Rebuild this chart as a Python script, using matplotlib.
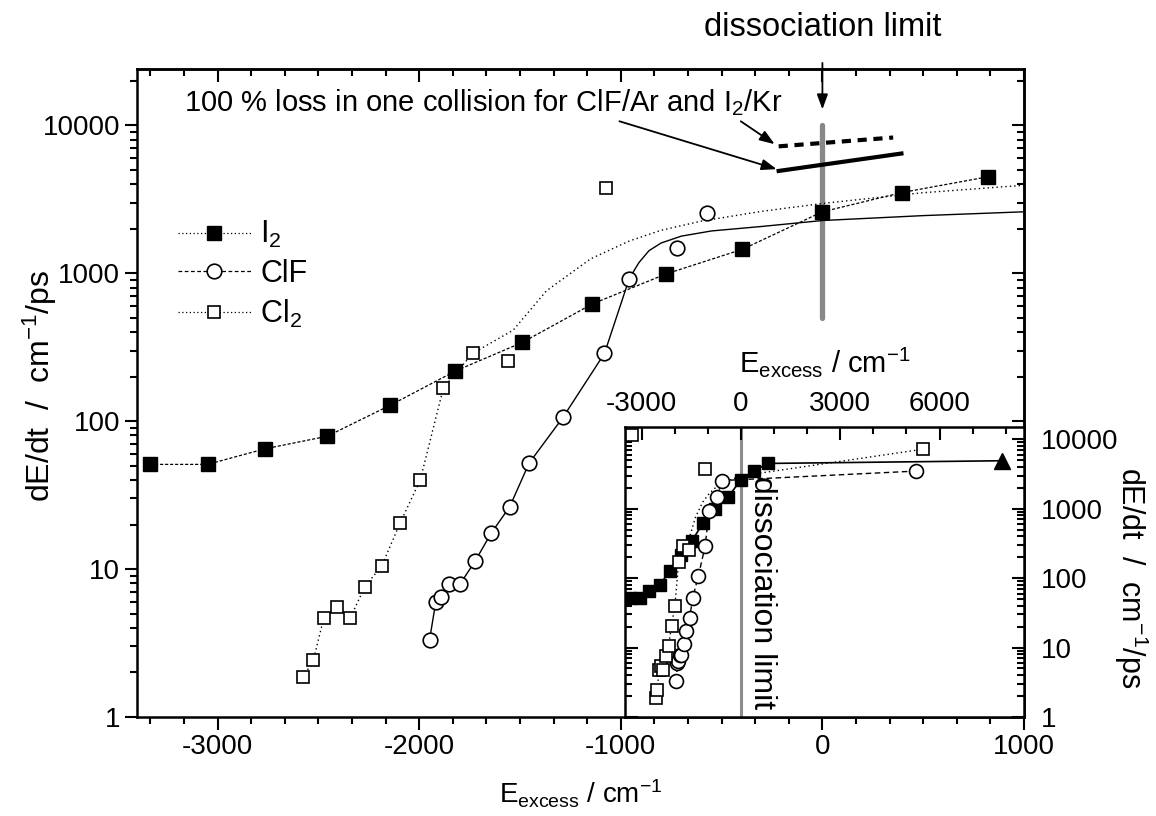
import matplotlib
matplotlib.use('Agg')
import matplotlib.pyplot as plt
from matplotlib.lines import Line2D
from matplotlib.ticker import MultipleLocator, LogLocator, FuncFormatter, NullFormatter

plt.rcParams['font.family'] = ['Liberation Sans', 'DejaVu Sans']
plt.rcParams['mathtext.fontset'] = 'custom'
plt.rcParams['mathtext.rm'] = 'Liberation Sans'
plt.rcParams['mathtext.it'] = 'Liberation Sans:italic'
plt.rcParams['mathtext.bf'] = 'Liberation Sans:bold'
plt.rcParams['axes.unicode_minus'] = False

# ---- data (E_excess in cm^-1, dE/dt in cm^-1/ps) ----
i2_x = [-3335, -3050, -2765, -2457, -2144, -1821, -1489, -1141, -774, -397, 0, 395, 820]
i2_y = [51, 51, 65, 79, 128, 218, 340, 620, 990, 1450, 2600, 3510, 4480]

clf_x = [-1949, -1918, -1893, -1850, -1798, -1723, -1644, -1551, -1455, -1287, -1081, -958, -721, -573]
clf_y = [3.3, 6.0, 6.5, 7.9, 7.9, 11.3, 17.4, 26.4, 52, 106, 287, 920, 1475, 2540]

cl2_x = [-2576, -2525, -2473, -2406, -2341, -2270, -2186, -2094, -1995, -1880, -1735, -1562, -1075]
cl2_y = [1.85, 2.43, 4.7, 5.5, 4.7, 7.6, 10.5, 20.6, 40, 168, 287, 255, 3750]

# smooth guide curves as drawn in the figure
clf_fit_x = [-1949, -1918, -1893, -1850, -1798, -1723, -1644, -1551, -1455, -1287, -1081, -958,
             -910, -860, -800, -700, -550, -300, 0, 500, 1000]
clf_fit_y = [3.3, 6.0, 6.5, 7.9, 7.9, 11.3, 17.4, 26.4, 52, 106, 287, 920,
             1180, 1420, 1600, 1780, 1930, 2070, 2270, 2450, 2600]

cl2_fit_x = [-2576, -2525, -2473, -2406, -2341, -2270, -2186, -2094, -1995, -1880, -1735,
             -1534, -1369, -1150, -958, -800, -600, -300, 0, 500, 1000]
cl2_fit_y = [1.85, 2.43, 4.7, 5.5, 4.7, 7.6, 10.5, 20.6, 40, 168, 287,
             412, 760, 1250, 1650, 1950, 2250, 2620, 2960, 3500, 3930]

# "100 % loss in one collision" estimates
loss_clf_x = [-217, 351]
loss_clf_y = [7200, 8260]
loss_i2_x = [-217, 392]
loss_i2_y = [4910, 6440]

diss_x = [0, 0]
diss_y = [500, 10000]

# inset: extra high-energy points
i2_hi_x = [7900]
i2_hi_y = [4900]
clf_hi_x = [5300]
clf_hi_y = [3480]
cl2_hi_x = [5500]
cl2_hi_y = [7180]
cl2_corner_x = [-3300]
cl2_corner_y = [11500]

TICK_FS = 20
LABEL_FS = 21
NOTE_FS = 22

fig = plt.figure(figsize=(11.56, 8.16), dpi=100)
ax = fig.add_axes([137 / 1156, 1 - 717 / 816, (1024 - 137) / 1156, (717 - 69) / 816])

ax.plot(i2_x, i2_y, color='k', lw=0.9, ls=(0, (2.5, 1.5)), zorder=2)
ax.plot(cl2_fit_x, cl2_fit_y, color='k', lw=1.0, ls=(0, (1, 2.2)), zorder=2)
ax.plot(clf_fit_x, clf_fit_y, color='k', lw=1.0, ls='-', zorder=2)
ax.plot(i2_x, i2_y, ls='none', marker='s', ms=9.5, mfc='k', mec='k', zorder=3)
ax.plot(clf_x, clf_y, ls='none', marker='o', ms=10.5, mfc='w', mec='k', mew=1.2, zorder=3)
ax.plot(cl2_x, cl2_y, ls='none', marker='s', ms=9, mfc='w', mec='k', mew=1.2, zorder=3)

ax.plot(diss_x, diss_y, color='#888888', lw=3.8, solid_capstyle='round', zorder=1)
ax.plot(loss_clf_x, loss_clf_y, color='k', lw=3, ls=(0, (2.2, 1.6)), zorder=2)
ax.plot(loss_i2_x, loss_i2_y, color='k', lw=3, zorder=2)

ax.set_yscale('log')
ax.set_xlim(-3400, 1000)
ax.set_ylim(1, 24000)

ax.xaxis.set_major_locator(MultipleLocator(1000))
ax.xaxis.set_minor_locator(MultipleLocator(1000 / 6))
ax.yaxis.set_major_locator(LogLocator(base=10))
ax.yaxis.set_minor_locator(LogLocator(base=10, subs=range(2, 10)))
ax.yaxis.set_major_formatter(FuncFormatter(lambda v, p: f'{v:g}'))
ax.yaxis.set_minor_formatter(NullFormatter())
ax.tick_params(which='both', direction='out', width=1.5, labelsize=TICK_FS)
ax.tick_params(which='major', length=9, pad=3)
ax.tick_params(which='minor', length=5)
for s in ax.spines.values():
    s.set_linewidth(1.8)

# top / right ticks point inwards
top = ax.secondary_xaxis('top')
top.xaxis.set_major_locator(MultipleLocator(1000))
top.xaxis.set_minor_locator(MultipleLocator(1000 / 6))
top.tick_params(which='both', direction='in', width=1.5, labeltop=False)
top.tick_params(which='major', length=9)
top.tick_params(which='minor', length=5)
right = ax.secondary_yaxis('right')
right.yaxis.set_major_locator(LogLocator(base=10))
right.yaxis.set_minor_locator(LogLocator(base=10, subs=range(2, 10)))
right.tick_params(which='both', direction='in', width=1.5, labelright=False)
right.tick_params(which='major', length=9)
right.tick_params(which='minor', length=5)
for sec in (top, right):
    for s in sec.spines.values():
        s.set_linewidth(1.8)

ax.set_xlabel(r'E$_{\mathrm{excess}}$ / cm$^{-1}$', fontsize=20, va='top')
ax.xaxis.set_label_coords(0.5, -0.094)
ax.set_ylabel(r'dE/dt  /  cm$^{-1}$/ps', fontsize=23, va='center')
ax.yaxis.set_label_coords(-0.109, 0.51)

# legend
handles = [
    Line2D([], [], color='k', lw=0.9, ls=(0, (1, 2)), marker='s', ms=9.5, mfc='k', mec='k'),
    Line2D([], [], color='k', lw=0.9, ls=(0, (3, 2)), marker='o', ms=10.5, mfc='w', mec='k', mew=1.2),
    Line2D([], [], color='k', lw=0.9, ls=(0, (1, 2)), marker='s', ms=9, mfc='w', mec='k', mew=1.2),
]
ax.legend(handles, [r'I$_2$', 'ClF', r'Cl$_2$'], loc='upper left', bbox_to_anchor=(0.046, 0.768),
          frameon=False, fontsize=22, handlelength=2.4, handletextpad=0.3,
          labelspacing=0.28, borderaxespad=0, borderpad=0)

# annotations
ax.annotate('dissociation limit', xy=(0, 12800), xytext=(0, 1 - 28 / 816),
            textcoords=('data', 'figure fraction'), ha='center', va='center',
            fontsize=23.5, annotation_clip=False,
            arrowprops=dict(arrowstyle='-|>,head_length=0.6,head_width=0.22', color='k',
                            lw=1.3, shrinkA=12, shrinkB=0, mutation_scale=15))
ax.text(-3165, 14300, r'100 % loss in one collision for ClF/Ar and I$_2$/Kr',
        fontsize=NOTE_FS - 1, ha='left', va='center')
ax.annotate('', xy=(-227, 5050), xytext=(-1007, 10640),
            arrowprops=dict(arrowstyle='-|>,head_length=0.6,head_width=0.22', color='k',
                            lw=1.3, shrinkA=0, shrinkB=0, mutation_scale=15))
ax.annotate('', xy=(-237, 7450), xytext=(-405, 10640),
            arrowprops=dict(arrowstyle='-|>,head_length=0.6,head_width=0.22', color='k',
                            lw=1.3, shrinkA=0, shrinkB=0, mutation_scale=15))

# ---- inset ----
axi = fig.add_axes([625 / 1156, 1 - 717 / 816, (1024 - 625) / 1156, (717 - 427) / 816])
axi.set_yscale('log')
axi.set_xlim(-3500, 8550)
axi.set_ylim(1, 15000)
axi.axvline(0, color='#8c8c8c', lw=2.2, zorder=1)

axi.plot(i2_x + i2_hi_x, i2_y + i2_hi_y, color='k', lw=1.2, zorder=2)
axi.plot(clf_x + clf_hi_x, clf_y + clf_hi_y, color='k', lw=1.0, ls=(0, (4, 2.5)), zorder=2)
axi.plot(cl2_fit_x[:-2] + cl2_hi_x, cl2_fit_y[:-2] + cl2_hi_y, color='k', lw=1.0,
         ls=(0, (1, 2.2)), zorder=2)
axi.plot(i2_x, i2_y, ls='none', marker='s', ms=9, mfc='k', mec='k', zorder=3)
axi.plot(i2_hi_x, i2_hi_y, ls='none', marker='^', ms=11, mfc='k', mec='k', zorder=3)
axi.plot(clf_x + clf_hi_x, clf_y + clf_hi_y, ls='none', marker='o', ms=10, mfc='w',
         mec='k', mew=1.2, zorder=3)
axi.plot(cl2_x + cl2_hi_x + cl2_corner_x, cl2_y + cl2_hi_y + cl2_corner_y, ls='none',
         marker='s', ms=9, mfc='w', mec='k', mew=1.2, zorder=3)

axi.text(640, 62, 'dissociation limit', rotation=270, ha='center', va='center',
         fontsize=23)

axi.xaxis.set_major_locator(MultipleLocator(3000))
axi.xaxis.set_minor_locator(MultipleLocator(1000))
axi.yaxis.set_major_locator(LogLocator(base=10))
axi.yaxis.set_minor_locator(LogLocator(base=10, subs=range(2, 10)))
axi.yaxis.set_major_formatter(FuncFormatter(lambda v, p: f'{v:g}'))
axi.yaxis.set_minor_formatter(NullFormatter())
axi.tick_params(which='both', direction='in', width=1.5, labelsize=TICK_FS,
                top=True, labeltop=True, bottom=False, labelbottom=False,
                left=True, labelleft=False, right=True, labelright=True)
axi.tick_params(which='major', length=9)
axi.tick_params(which='minor', length=5)
axi.tick_params(axis='x', pad=7)
axi.tick_params(axis='y', pad=12)
for s in axi.spines.values():
    s.set_linewidth(1.8)

axi.set_xlabel(r'E$_{\mathrm{excess}}$ / cm$^{-1}$', fontsize=LABEL_FS)
axi.xaxis.set_label_position('top')
axi.xaxis.set_label_coords(0.5, 1.19)
axi.set_ylabel(r'dE/dt  /  cm$^{-1}$/ps', fontsize=22, rotation=270)
axi.yaxis.set_label_position('right')
axi.yaxis.set_label_coords(1.268, 0.48)
axi.yaxis.label.set_va('center')

fig.savefig('out.png', dpi=100)
